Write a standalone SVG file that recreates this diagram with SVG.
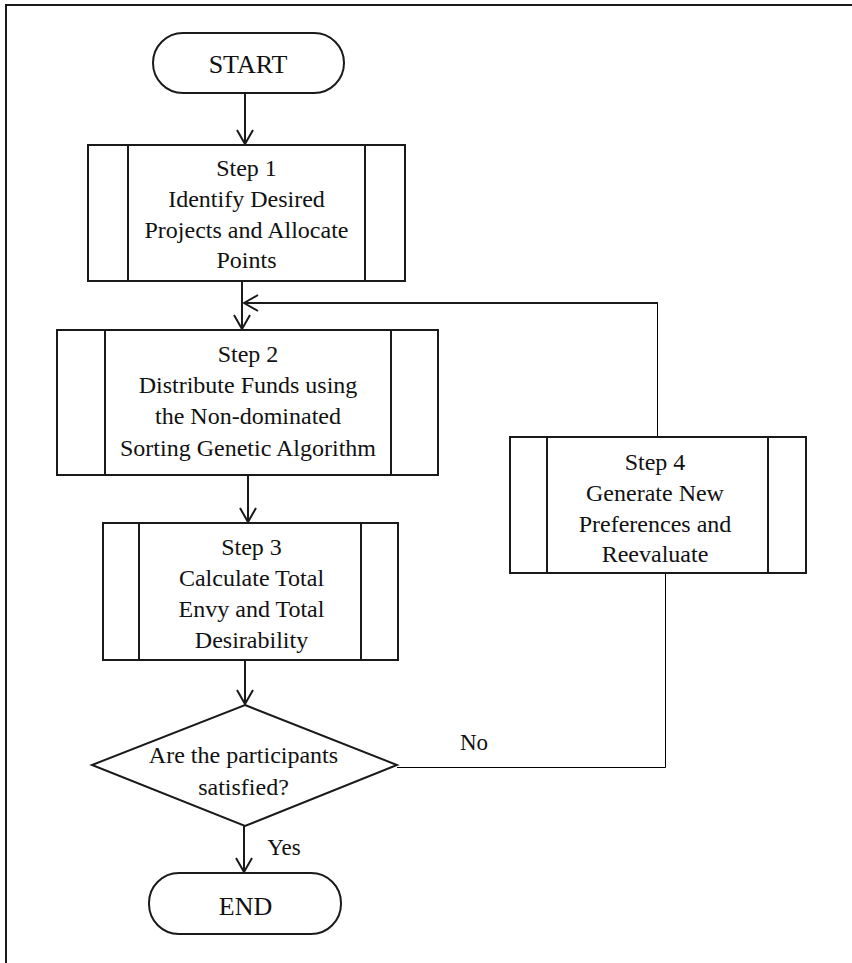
<svg xmlns="http://www.w3.org/2000/svg" width="852" height="963" viewBox="0 0 852 963" font-family="'Liberation Serif', 'DejaVu Serif', 'Times New Roman', serif">
  <style>
    .box { fill: #fff; stroke: #1a1a1a; stroke-width: 2; }
    .div { stroke: #1a1a1a; stroke-width: 2; }
    text { font-family: 'Liberation Serif', 'DejaVu Serif', serif; fill: #111; text-anchor: middle; }
    .t { font-size: 24px; }
    .tt { font-size: 26px; }
    .lbl { font-size: 23px; }
    .c { fill: none; stroke: #1a1a1a; stroke-width: 2; }
    .thin { fill: none; stroke: #000; stroke-width: 1; }
  </style>
  <defs>
    <marker id="arr" viewBox="0 0 16 18" refX="15" refY="9" markerWidth="16" markerHeight="18" markerUnits="userSpaceOnUse" orient="auto">
      <path d="M1,1 L15,9 L1,17" fill="none" stroke="#1a1a1a" stroke-width="2"/>
    </marker>
  </defs>
  <rect width="852" height="963" fill="#fff"/>
  <path d="M6,963 V5 H852" fill="none" stroke="#1a1a1a" stroke-width="2"/>

  <g id="connectors">
    <line class="c" x1="245" y1="93" x2="245" y2="144" marker-end="url(#arr)"/>
    <line class="c" x1="242" y1="281" x2="242" y2="329" marker-end="url(#arr)"/>
    <polyline class="thin" points="657.5,437 657.5,303"/>
    <line class="c" x1="658" y1="303" x2="244" y2="303" marker-end="url(#arr)"/>
    <line class="c" x1="248" y1="475" x2="248" y2="522" marker-end="url(#arr)"/>
    <line class="c" x1="245" y1="660" x2="245" y2="704" marker-end="url(#arr)"/>
    <polyline class="thin" points="397,767.5 665.5,767.5 665.5,573"/>
    <line class="c" x1="244" y1="826" x2="244" y2="872" marker-end="url(#arr)"/>
    <text class="lbl" x="474" y="750">No</text>
    <text class="lbl" x="284" y="855">Yes</text>
  </g>

  <g id="start">
    <rect class="box" x="153" y="33" width="191" height="60" rx="30" ry="30"/>
    <text class="tt" x="248" y="73">START</text>
  </g>

  <g id="step1">
    <rect class="box" x="88" y="145" width="317" height="136"/>
    <line class="div" x1="128" y1="145" x2="128" y2="281"/>
    <line class="div" x1="365" y1="145" x2="365" y2="281"/>
    <text class="t" x="246.5" y="176">Step 1</text>
    <text class="t" x="246.5" y="207">Identify Desired</text>
    <text class="t" x="246.5" y="238">Projects and Allocate</text>
    <text class="t" x="246.5" y="268">Points</text>
  </g>

  <g id="step2">
    <rect class="box" x="57" y="330" width="381" height="145"/>
    <line class="div" x1="105" y1="330" x2="105" y2="475"/>
    <line class="div" x1="391" y1="330" x2="391" y2="475"/>
    <text class="t" x="248" y="362">Step 2</text>
    <text class="t" x="248" y="393">Distribute Funds using</text>
    <text class="t" x="248" y="424">the Non-dominated</text>
    <text class="t" x="248" y="456">Sorting Genetic Algorithm</text>
  </g>

  <g id="step3">
    <rect class="box" x="103" y="523" width="295" height="137"/>
    <line class="div" x1="139" y1="523" x2="139" y2="660"/>
    <line class="div" x1="361" y1="523" x2="361" y2="660"/>
    <text class="t" x="251.5" y="555">Step 3</text>
    <text class="t" x="251.5" y="586">Calculate Total</text>
    <text class="t" x="251.5" y="617">Envy and Total</text>
    <text class="t" x="251.5" y="648">Desirability</text>
  </g>

  <g id="step4">
    <rect class="box" x="510" y="437" width="296" height="136"/>
    <line class="div" x1="547" y1="437" x2="547" y2="573"/>
    <line class="div" x1="768" y1="437" x2="768" y2="573"/>
    <text class="t" x="655" y="470">Step 4</text>
    <text class="t" x="655" y="501">Generate New</text>
    <text class="t" x="655" y="532">Preferences and</text>
    <text class="t" x="655" y="562">Reevaluate</text>
  </g>

  <g id="decision">
    <polygon class="box" points="245,705 397,765 245,826 92,765"/>
    <text class="t" x="243.5" y="763">Are the participants</text>
    <text class="t" x="243.5" y="795">satisfied?</text>
  </g>

  <g id="end">
    <rect class="box" x="149" y="873" width="192" height="61" rx="30" ry="30"/>
    <text class="tt" x="245.5" y="915">END</text>
  </g>
</svg>
